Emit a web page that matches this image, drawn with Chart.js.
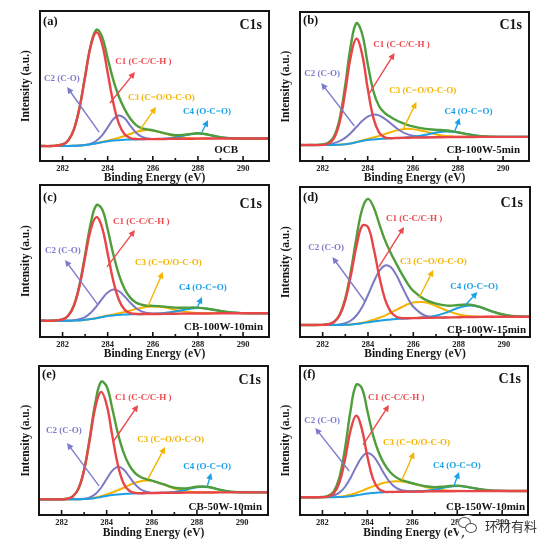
<!DOCTYPE html>
<html><head><meta charset="utf-8">
<script src="https://cdn.jsdelivr.net/npm/chart.js@4.4.1/dist/chart.umd.min.js"></script>
<style>
html,body{margin:0;padding:0;background:#fff;}
body{width:554px;height:551px;position:relative;overflow:hidden;font-family:"Liberation Serif",serif;}
canvas{position:absolute;}
#wm{position:absolute;left:457px;top:513px;height:24px;display:flex;align-items:center;z-index:5;}
#wm .ic{position:relative;width:22px;height:21px;background:#fff;border-radius:50%;margin-right:6px;}
#wm .b1{position:absolute;left:1px;top:2px;width:11px;height:9px;border:1.4px solid #555;border-radius:50%;background:#fff;}
#wm .b2{position:absolute;left:8px;top:8px;width:10px;height:8px;border:1.4px solid #555;border-radius:50%;background:#fff;}
#wm .tx{font-family:"Noto Sans CJK SC",sans-serif;font-size:13px;color:#333;text-shadow:0 0 2px #fff,0 0 2px #fff;}
</style>
</head><body>
<div id="wm"><span class="ic"><span class="b1"></span><span class="b2"></span></span><span class="tx">环材有料</span></div>
<script>
// ---------- DATA ----------
const energy = [281,281.5,282,282.25,282.5,282.75,283,283.25,283.5,283.75,284,284.25,284.5,284.75,285,285.25,285.5,285.75,286,286.5,287,287.5,288,288.5,289,289.5,290,290.5,291.15];
const xTickLabels = [282,284,286,288,290];
const xTickMarks = [282,283,284,285,286,287,288,289,290];
const panelLetters = ['(a)','(b)','(c)','(d)','(e)','(f)'];
const sampleNames = ['OCB','CB-100W-5min','CB-100W-10min','CB-100W-15min','CB-50W-10min','CB-150W-10min'];
const componentLabels = ['C1 (C-C/C-H )','C2 (C-O)','C3 (C=O/O-C-O)','C4 (O-C=O)'];
const coreLevel = 'C1s';

const aEnvelope = [10.0,10.0,11.0,13.7,20.9,35.4,56.4,77.2,87.6,82.9,68.5,53.9,42.8,34.6,28.3,24.1,21.9,21.1,20.4,18.6,17.2,17.7,18.5,17.4,15.8,15.2,15.0,15.0,15.0];
const aC1 = [10.0,10.0,11.0,13.7,20.9,35.4,56.3,76.7,85.8,78.1,58.8,38.7,24.7,17.8,15.3,14.7,14.6,14.6,14.6,14.7,14.8,14.8,14.9,15.0,15.0,15.0,15.0,15.0,15.0];
const aC2 = [10.0,10.0,10.0,10.0,10.1,10.3,10.7,11.6,13.5,17.1,22.4,27.9,30.4,28.5,23.6,19.0,16.2,15.1,14.7,14.7,null,null,null,null,null,null,null,null,null];
const aC3 = [null,null,10.0,10.0,10.1,10.3,10.6,11.1,11.9,12.7,13.5,14.5,15.5,16.7,18.0,19.3,20.2,20.6,20.3,18.4,16.4,15.3,15.0,15.0,null,null,null,null,null];
const aC4 = [10.0,10.0,10.0,10.0,10.1,10.3,10.6,11.1,11.8,12.5,13.1,13.6,13.9,14.2,14.3,14.4,14.5,14.6,14.6,14.9,15.6,17.3,18.4,17.4,15.8,15.2,15.0,15.0,15.0];

const bEnvelope = [10.7,10.7,11.1,12.2,16.3,27.9,50.3,77.3,92.5,85.6,65.3,47.0,36.9,32.3,29.7,27.5,25.7,24.3,23.2,21.7,21.0,20.5,19.3,17.8,16.7,16.3,16.2,16.2,16.2];
const bC1 = [10.7,10.7,10.8,11.6,15.1,25.5,45.9,70.2,82.1,71.9,48.8,29.1,19.2,15.9,15.3,15.4,15.5,15.6,15.7,15.8,15.9,16.0,16.1,16.1,16.2,16.2,16.2,16.2,16.2];
const bC2 = [10.7,10.7,10.9,11.3,12.0,13.3,15.5,18.8,22.8,26.8,29.8,31.1,30.6,28.4,25.5,22.4,19.8,18.0,16.9,16.0,15.9,null,null,null,null,null,null,null,null];
const bC3 = [null,null,null,10.7,10.8,10.9,11.2,11.8,12.7,13.8,14.8,15.8,16.8,18.0,19.3,20.4,21.2,21.6,21.4,19.9,18.0,16.7,16.3,16.2,16.2,null,null,null,null];
const bC4 = [10.7,10.7,10.7,10.7,10.8,10.9,11.2,11.7,12.6,13.4,14.1,14.5,14.8,15.0,15.2,15.4,15.6,15.9,16.2,17.4,19.0,19.8,19.2,17.8,16.7,16.3,16.2,16.2,16.2];

const cEnvelope = [10.7,10.7,11.6,14.0,20.7,34.2,54.2,74.9,86.7,84.2,70.7,54.4,40.9,31.6,25.9,22.7,21.2,20.6,20.5,20.0,19.3,19.3,19.3,18.4,17.1,16.1,15.7,15.6,15.6];
const cC1 = [10.7,10.7,11.6,14.0,20.5,33.5,52.4,70.8,78.9,72.1,54.9,36.8,24.3,18.0,15.7,15.2,15.1,15.1,15.1,15.2,15.3,15.4,15.5,15.5,15.6,15.6,15.6,15.6,15.6];
const cC2 = [10.7,10.7,10.7,10.8,11.0,11.7,13.1,15.9,20.1,25.1,29.3,31.2,30.1,26.7,22.6,19.1,16.9,15.8,15.4,15.3,null,null,null,null,null,null,null,null,null];
const cC3 = [null,null,10.7,10.7,10.8,10.9,11.3,11.8,12.5,13.3,14.1,14.8,15.6,16.5,17.4,18.4,19.2,19.9,20.1,19.5,17.8,16.4,15.8,15.6,15.6,null,null,null,null];
const cC4 = [10.7,10.7,10.7,10.7,10.8,10.9,11.3,11.8,12.4,13.1,13.8,14.2,14.5,14.8,14.9,15.0,15.0,15.1,15.2,15.8,16.8,18.2,19.0,18.4,17.1,16.1,15.7,15.6,15.6];

const dEnvelope = [8.0,8.0,8.1,8.5,10.1,14.9,25.8,44.2,67.1,85.5,92.1,86.5,75.3,64.6,56.2,48.9,41.9,35.6,30.7,25.1,22.2,20.9,21.3,21.6,19.8,16.9,14.8,13.8,13.5];
const dC1 = [8.0,8.0,8.1,8.5,10.0,14.5,24.6,41.5,61.1,74.2,73.3,59.1,40.3,25.2,16.9,13.5,12.6,12.5,12.6,12.8,12.9,13.0,13.2,13.3,13.4,13.5,13.5,13.5,13.5];
const dC2 = [8.0,8.0,8.0,8.0,8.1,8.4,9.2,11.0,14.5,20.2,28.0,36.7,44.0,47.7,46.6,41.3,33.7,26.1,20.2,14.4,13.1,13.1,null,null,null,null,null,null,null];
const dC3 = [null,null,8.0,8.0,8.0,8.1,8.2,8.4,8.8,9.5,10.4,11.5,12.8,14.3,16.1,18.1,20.0,21.8,23.0,23.2,20.7,17.5,15.0,13.9,13.5,13.5,null,null,null];
const dC4 = [8.0,8.0,8.0,8.0,8.0,8.0,8.1,8.3,8.7,9.2,9.8,10.4,10.9,11.3,11.7,12.0,12.2,12.4,12.6,13.1,14.2,16.5,19.5,21.0,19.7,16.9,14.8,13.8,13.5];

const eEnvelope = [10.5,10.5,10.6,10.9,12.5,17.7,30.4,51.7,75.5,89.4,86.3,71.3,54.6,41.9,33.5,28.3,25.5,24.1,23.1,20.7,18.3,17.8,19.0,18.8,17.0,15.6,15.3,15.2,15.2];
const eC1 = [10.5,10.5,10.6,10.9,12.5,17.7,30.1,50.7,72.5,82.6,73.9,53.1,33.3,21.2,16.3,14.9,14.6,14.7,14.7,14.9,14.9,15.0,15.1,15.1,15.2,15.2,15.2,15.2,15.2];
const eC2 = [10.5,10.5,10.5,10.5,10.5,10.6,10.9,11.8,14.1,18.3,24.2,29.8,32.3,30.5,25.7,20.7,17.3,15.6,15.0,14.9,null,null,null,null,null,null,null,null,null];
const eC3 = [null,null,10.5,10.5,10.5,10.6,10.7,11.0,11.7,12.6,13.8,15.1,16.7,18.3,20.1,21.6,22.7,23.2,22.9,20.6,17.8,16.0,15.3,15.2,15.2,null,null,null,null];
const eC4 = [10.5,10.5,10.5,10.5,10.5,10.6,10.7,10.9,11.4,12.1,12.8,13.4,13.8,14.1,14.3,14.5,14.6,14.7,14.7,14.9,15.4,16.8,18.7,18.8,17.0,15.6,15.3,15.2,15.2];

const fEnvelope = [11.9,11.9,12.1,12.8,15.7,24.9,44.2,70.0,87.4,85.3,69.8,53.6,42.1,34.3,29.0,25.6,23.6,22.4,21.3,19.5,18.7,19.2,19.7,18.7,17.3,16.4,16.2,16.1,16.1];
const fC1 = [11.9,11.9,12.0,12.3,14.4,21.5,37.0,56.7,66.7,58.0,39.2,24.3,17.6,15.7,15.5,15.5,15.6,15.7,15.7,15.8,15.9,15.9,16.0,16.0,16.1,16.1,16.1,16.1,16.1];
const fC2 = [11.9,11.9,12.0,12.3,13.1,15.0,18.8,24.9,32.3,38.7,41.6,39.7,34.2,27.6,22.1,18.5,16.8,16.1,15.8,15.8,null,null,null,null,null,null,null,null,null];
const fC3 = [null,11.9,11.9,12.0,12.1,12.3,12.8,13.6,14.8,16.2,17.8,19.2,20.5,21.6,22.3,22.6,22.5,22.0,21.2,19.2,17.5,16.5,16.2,16.1,16.1,null,null,null,null];
const fC4 = [11.9,11.9,11.9,11.9,11.9,12.0,12.2,12.6,13.2,13.8,14.4,14.8,15.1,15.3,15.4,15.5,15.6,15.7,15.8,16.1,17.1,18.6,19.5,18.7,17.3,16.4,16.2,16.1,16.1];

const panelSeries = [
  [aEnvelope,aC1,aC2,aC3,aC4],
  [bEnvelope,bC1,bC2,bC3,bC4],
  [cEnvelope,cC1,cC2,cC3,cC4],
  [dEnvelope,dC1,dC2,dC3,dC4],
  [eEnvelope,eC1,eC2,eC3,eC4],
  [fEnvelope,fC1,fC2,fC3,fC4]
];

// ---------- LAYOUT / STYLE (positions in page px; note anchors in data units) ----------
const LAYOUT = [
  {col:0,l:40,t:11,r:269,b:161,ty:178,ld:11,cd:14,sr:31,sd:11},
  {col:1,l:300,t:12,r:529,b:161,ty:178,ld:9,cd:13,sr:9,sd:11},
  {col:0,l:40,t:185,r:269,b:337,ty:354.5,ld:13,cd:19,sr:6,sd:10},
  {col:1,l:300,t:187,r:530,b:337,ty:354.5,ld:11,cd:16,sr:4,sd:7},
  {col:0,l:39,t:366,r:268,b:515,ty:533,ld:9,cd:14,sr:6,sd:8},
  {col:1,l:300,t:366,r:528,b:515,ty:533,ld:9,cd:13,sr:3,sd:8}
];
const NOTES = [
  [{t:[284.33,66],a:[284.10,38.7],h:[285.21,59.3]},{t:[281.18,54.7],a:[283.62,19.3],h:[282.2,49.3]},{t:[284.9,42],a:[285.43,20.7],h:[286.14,36]},{t:[287.34,32.7],a:[288.18,19.3],h:[288.45,27.3]}],
  [{t:[284.25,77.9],a:[284.08,45.6],h:[285.19,72.5]},{t:[281.19,58.4],a:[283.41,23.5],h:[281.94,52.3]},{t:[284.96,47],a:[285.59,22.1],h:[286.16,39.6]},{t:[287.41,32.9],a:[287.85,19.5],h:[288.08,28.9]}],
  [{t:[284.24,75.7],a:[283.97,46.1],h:[285.21,70.4]},{t:[281.22,56.6],a:[283.57,21.1],h:[282.11,50.7]},{t:[285.21,48.7],a:[285.79,20.4],h:[286.45,42.8]},{t:[287.16,32.2],a:[287.96,19.1],h:[288.18,26.3]}],
  [{t:[284.79,78.7],a:[284.48,46.7],h:[285.59,73.3]},{t:[281.36,59.3],a:[283.85,24],h:[282.43,53.3]},{t:[285.41,50],a:[286.25,26],h:[286.88,44.7]},{t:[287.63,33.3],a:[288.3,21.3],h:[288.83,30]}],
  [{t:[284.37,78.5],a:[284.28,49],h:[285.39,73.8]},{t:[281.31,56.4],a:[283.66,19.5],h:[282.24,48.3]},{t:[285.35,50.3],a:[285.83,24.2],h:[286.59,45.6]},{t:[287.39,32.2],a:[288.45,18.8],h:[288.63,28.2]}],
  [{t:[284.03,78.5],a:[283.81,47],h:[284.96,73.8]},{t:[281.19,63.1],a:[283.19,29.5],h:[281.68,58.4]},{t:[284.7,48.3],a:[285.54,23.5],h:[286.08,42.3]},{t:[286.92,32.9],a:[287.85,19.5],h:[288.08,28.9]}]
];
const LINE_COLORS = {env:'#4f9d3b', c1:'#e84549', c2:'#7b79c4', c3:'#f5b300', c4:'#1c9fe4'};
const NOTE_COLORS = ['#ec4a4d','#7c7bcc','#f4b400','#1aa0e6'];
const SERIF = '"Liberation Serif", "Times New Roman", serif';

const decor = {
  id:'decor',
  afterDatasetsDraw(chart, args, o){
    const {ctx, chartArea:a, scales:{x,y}} = chart;
    const L = o.layout;
    ctx.save();
    // annotations with arrows
    o.notes.forEach((n,i)=>{
      const col = NOTE_COLORS[i];
      ctx.strokeStyle = col; ctx.fillStyle = col; ctx.lineWidth = 1.4;
      const x1 = x.getPixelForValue(n.a[0]), y1 = y.getPixelForValue(n.a[1]);
      const x2 = x.getPixelForValue(n.h[0]), y2 = y.getPixelForValue(n.h[1]);
      const ang = Math.atan2(y2-y1, x2-x1);
      const HL = 6.5, HW = 3.2;
      ctx.beginPath(); ctx.moveTo(x1,y1); ctx.lineTo(x2-Math.cos(ang)*3, y2-Math.sin(ang)*3); ctx.stroke();
      ctx.beginPath();
      ctx.moveTo(x2, y2);
      ctx.lineTo(x2-HL*Math.cos(ang)+HW*Math.sin(ang), y2-HL*Math.sin(ang)-HW*Math.cos(ang));
      ctx.lineTo(x2-HL*Math.cos(ang)-HW*Math.sin(ang), y2-HL*Math.sin(ang)+HW*Math.cos(ang));
      ctx.closePath(); ctx.fill();
      ctx.font = 'bold 9px ' + SERIF;
      ctx.textAlign = 'left'; ctx.textBaseline = 'middle';
      ctx.fillText(componentLabels[i], x.getPixelForValue(n.t[0]), y.getPixelForValue(n.t[1]));
    });
    // frame
    ctx.strokeStyle = '#151515'; ctx.lineWidth = 2;
    ctx.strokeRect(a.left, a.top, a.right-a.left, a.bottom-a.top);
    // inward tick marks on the energy axis
    ctx.lineWidth = 1.6;
    xTickMarks.forEach(v=>{
      const px = x.getPixelForValue(v);
      const len = (v % 2 === 0) ? 5 : 3;
      ctx.beginPath(); ctx.moveTo(px, a.bottom); ctx.lineTo(px, a.bottom-len); ctx.stroke();
    });
    // corner labels
    ctx.fillStyle = '#151515'; ctx.textBaseline = 'middle';
    ctx.font = 'bold 12.5px ' + SERIF; ctx.textAlign = 'left';
    ctx.fillText(o.letter, a.left+3, a.top+L.ld);
    ctx.font = 'bold 14px ' + SERIF; ctx.textAlign = 'right';
    ctx.fillText(coreLevel, a.right-7, a.top+L.cd);
    ctx.font = 'bold 11px ' + SERIF; ctx.textAlign = 'right';
    ctx.fillText(o.sample, a.right-L.sr, a.bottom-L.sd);
    ctx.restore();
  }
};

function series(arr, color, width){
  return {data: energy.map((e,i)=>({x:e, y:arr[i]})), borderColor:color, borderWidth:width,
          pointRadius:0, tension:0.4, fill:false, spanGaps:false};
}

LAYOUT.forEach((L, idx)=>{
  const [env,c1,c2,c3,c4] = panelSeries[idx];
  const cx = L.col*277, cw = 277, cy = L.t - 2;
  const ch = Math.ceil(L.ty + 9 - cy);
  const yTitleC = L.col ? 286 : 26;
  const half = 6.9;
  const padLeft = yTitleC - half - cx;
  const Wy = L.l - cx - padLeft;
  const padRight = cx + cw - L.r;
  const Hx = L.ty + half - L.b;
  const padBottom = ch - (L.b - cy) - Hx;
  const cv = document.createElement('canvas');
  cv.width = cw; cv.height = ch;
  cv.style.left = cx+'px'; cv.style.top = cy+'px';
  cv.style.width = cw+'px'; cv.style.height = ch+'px';
  document.body.appendChild(cv);
  new Chart(cv, {
    type:'line',
    data:{datasets:[
      series(c1, LINE_COLORS.c1, 2.4),
      series(env, LINE_COLORS.env, 2.4),
      series(c4, LINE_COLORS.c4, 2.0),
      series(c2, LINE_COLORS.c2, 2.0),
      series(c3, LINE_COLORS.c3, 2.0)
    ]},
    options:{
      responsive:false, animation:false, devicePixelRatio:1,
      layout:{padding:{left:padLeft, right:padRight, top:2, bottom:padBottom}},
      plugins:{legend:{display:false}, tooltip:{enabled:false}, decor:{layout:L, notes:NOTES[idx], letter:panelLetters[idx], sample:sampleNames[idx]}},
      scales:{
        x:{type:'linear', min:281, max:291.15,
           afterBuildTicks:(s)=>{ s.ticks = xTickLabels.map(v=>({value:v})); },
           afterFit:(s)=>{ s.height = Hx; },
           grid:{display:false, drawTicks:false}, border:{display:false},
           ticks:{padding:2.4, color:'#222', font:{family:SERIF, size:8.5, weight:'bold'}, maxRotation:0, autoSkip:false},
           title:{display:true, text:'Binding Energy (eV)', color:'#151515', padding:{top:0,bottom:0}, font:{family:SERIF, size:11.5, weight:'bold'}}},
        y:{type:'linear', min:0, max:100,
           afterFit:(s)=>{ s.width = Wy; },
           grid:{display:false, drawTicks:false}, border:{display:false},
           ticks:{display:false},
           title:{display:true, text:'Intensity (a.u.)', color:'#151515', padding:{top:0,bottom:0}, font:{family:SERIF, size:11.5, weight:'bold'}}}
      }
    },
    plugins:[decor]
  });
});
</script>
</body></html>
